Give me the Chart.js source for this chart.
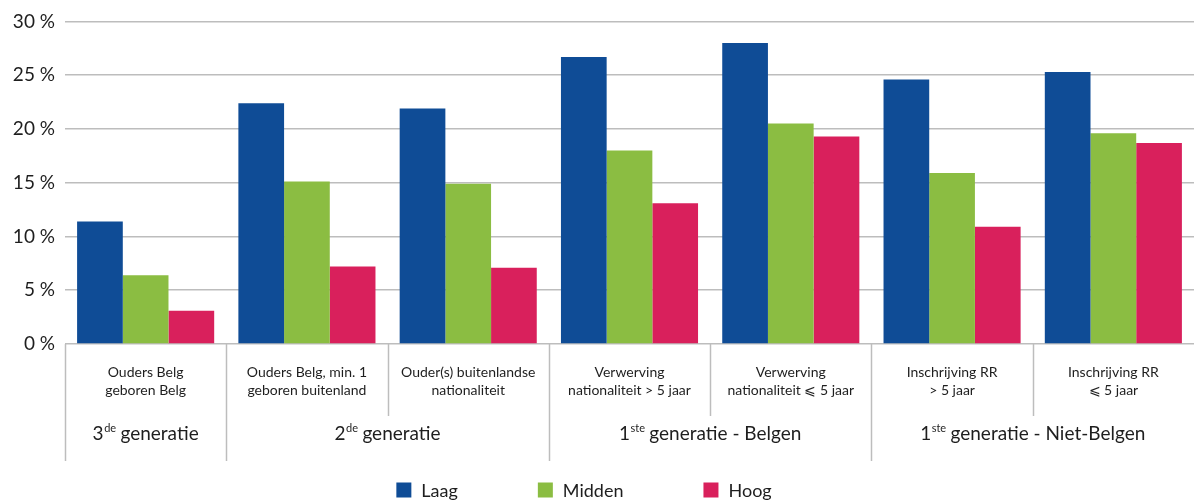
<!DOCTYPE html>
<html>
<head>
<meta charset="utf-8">
<script src="https://cdn.jsdelivr.net/npm/chart.js@4"></script>
<style>
  body { margin: 0; background: #fff; }
  #wrap { width: 1194px; height: 502px; position: relative; }
</style>
</head>
<body>
<div id="wrap"><canvas id="generatieChart"></canvas></div>
<script>
// categories (two-line labels) and groups
var categories = [
  ['Ouders Belg', 'geboren Belg'],
  ['Ouders Belg, min. 1', 'geboren buitenland'],
  ['Ouder(s) buitenlandse', 'nationaliteit'],
  ['Verwerving', 'nationaliteit > 5 jaar'],
  ['Verwerving', 'nationaliteit \u2A7D 5 jaar'],
  ['Inschrijving RR', '> 5 jaar'],
  ['Inschrijving RR', '\u2A7D 5 jaar']
];
var groupNumbers = ['3', '2', '1', '1'];
var groupSuffix = ['de', 'de', 'ste', 'ste'];
var groupNames = [' generatie', ' generatie', ' generatie - Belgen', ' generatie - Niet-Belgen'];
var groupSizes = [1, 2, 2, 2];

// series values (%)
var laag = [11.4, 22.4, 21.9, 26.7, 28.0, 24.6, 25.3];
var midden = [6.4, 15.1, 14.9, 18.0, 20.5, 15.9, 19.6];
var hoog = [3.1, 7.2, 7.1, 13.1, 19.3, 10.9, 18.7];
var yTicks = [0, 5, 10, 15, 20, 25, 30];

var FONT = 'Lato, "Open Sans", sans-serif';
var TEXT = '#1e1e1e';
var LINE = '#bdbdbd';

// draws the separators under the axis, the group labels and the legend
var decorPlugin = {
  id: 'decor',
  afterDraw: function (chart) {
    var ctx = chart.ctx, area = chart.chartArea, x = chart.scales.x;
    var n = categories.length;
    var edge = function (i) {
      if (i === 0) return area.left;
      if (i === n) return area.right;
      return (x.getPixelForValue(i - 1) + x.getPixelForValue(i)) / 2;
    };
    var starts = [];
    var s = 0;
    groupSizes.forEach(function (g) { starts.push(s); s += g; });

    ctx.save();
    ctx.strokeStyle = LINE;
    ctx.lineWidth = 1.5;
    for (var i = 0; i < n; i++) {
      var px = Math.round(edge(i)) + 0.5;
      var long = starts.indexOf(i) >= 0;
      ctx.beginPath();
      ctx.moveTo(px, area.bottom);
      ctx.lineTo(px, area.bottom + (long ? 117 : 72));
      ctx.stroke();
    }

    // group labels with superscript suffix
    ctx.fillStyle = TEXT;
    ctx.textBaseline = 'alphabetic';
    groupSizes.forEach(function (g, k) {
      var cx = (edge(starts[k]) + edge(starts[k] + g)) / 2;
      var big = '19px ' + FONT, small = '11px ' + FONT;
      ctx.font = big;
      var w1 = ctx.measureText(groupNumbers[k]).width;
      var w3 = ctx.measureText(groupNames[k]).width;
      ctx.font = small;
      var w2 = ctx.measureText(groupSuffix[k]).width;
      var left = cx - (w1 + w2 + w3) / 2;
      var base = area.bottom + 96;
      ctx.textAlign = 'left';
      ctx.font = big;
      ctx.fillText(groupNumbers[k], left, base);
      ctx.font = small;
      ctx.fillText(groupSuffix[k], left + w1 + 0.5, base - 8);
      ctx.font = big;
      ctx.fillText(groupNames[k], left + w1 + w2, base);
    });

    // legend
    var items = chart.data.datasets;
    ctx.font = '18px ' + FONT;
    var box = 15, gapBox = 10, gapItem = 80;
    var total = 0;
    items.forEach(function (d, k) {
      total += box + gapBox + ctx.measureText(d.label).width + (k ? gapItem : 0);
    });
    var lx = chart.width / 2 - 13 - total / 2;
    var ly = chart.height - 12;
    items.forEach(function (d) {
      ctx.fillStyle = d.backgroundColor;
      ctx.fillRect(lx, ly - box / 2, box, box);
      ctx.fillStyle = TEXT;
      ctx.textBaseline = 'middle';
      ctx.fillText(d.label, lx + box + gapBox, ly + 1);
      lx += box + gapBox + ctx.measureText(d.label).width + gapItem;
    });
    ctx.restore();
  }
};

var ctx = document.getElementById('generatieChart').getContext('2d');
var chart = new Chart(ctx, {
  type: 'bar',
  data: {
    labels: categories,
    datasets: [
      { label: 'Laag', data: laag, backgroundColor: '#0f4c96' },
      { label: 'Midden', data: midden, backgroundColor: '#8bbd42' },
      { label: 'Hoog', data: hoog, backgroundColor: '#d9205c' }
    ]
  },
  options: {
    responsive: true,
    maintainAspectRatio: false,
    animation: false,
    layout: { padding: { top: 8, right: 0, bottom: 38, left: 0 } },
    datasets: { bar: { categoryPercentage: 0.85, barPercentage: 1.0, borderWidth: 0 } },
    plugins: {
      legend: { display: false },
      tooltip: { enabled: false }
    },
    scales: {
      x: {
        grid: { display: false },
        border: { display: false },
        ticks: {
          color: TEXT,
          font: { family: FONT, size: 14, lineHeight: 1.3 },
          padding: 11,
          maxRotation: 0,
          autoSkip: false
        },
        afterFit: function (scale) { scale.height = 120; }
      },
      y: {
        min: 0,
        max: 30,
        afterBuildTicks: function (scale) {
          scale.ticks = yTicks.map(function (v) { return { value: v }; });
        },
        grid: { color: LINE, lineWidth: 1.5, drawTicks: false },
        border: { display: false },
        ticks: {
          color: TEXT,
          font: { family: FONT, size: 19 },
          padding: 10,
          callback: function (v) { return v + ' %'; }
        },
        afterFit: function (scale) { scale.width = 65; }
      }
    }
  },
  plugins: [decorPlugin]
});
</script>
</body>
</html>
